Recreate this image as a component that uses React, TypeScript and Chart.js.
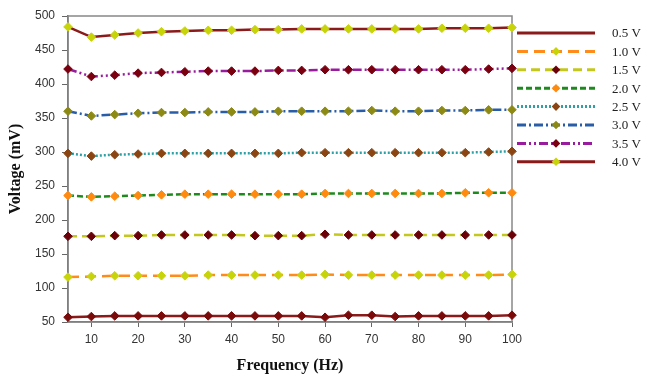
import React, { useEffect, useRef } from "react";
import { Chart, registerables } from "chart.js";

Chart.register(...registerables);

const frequencies = [5, 10, 15, 20, 25, 30, 35, 40, 45, 50, 55, 60, 65, 70, 75, 80, 85, 90, 95, 100];
const xTicks = [10, 20, 30, 40, 50, 60, 70, 80, 90, 100];
const seriesLabels = ["0.5 V", "1.0 V", "1.5 V", "2.0 V", "2.5 V", "3.0 V", "3.5 V", "4.0 V"];

const v05 = [57, 58, 59, 59, 59, 59, 59, 59, 59, 59, 59, 57, 60, 60, 58, 59, 59, 59, 59, 60];
const v10 = [116, 117, 118, 118, 118, 118, 119, 119, 119, 119, 119, 120, 119, 119, 119, 119, 119, 119, 119, 120];
const v15 = [176, 176, 177, 177, 178, 178, 178, 178, 177, 177, 177, 179, 178, 178, 178, 178, 178, 178, 178, 178];
const v20 = [236, 234, 235, 236, 237, 238, 238, 238, 238, 238, 238, 239, 239, 239, 239, 239, 239, 240, 240, 240];
const v25 = [298, 294, 296, 297, 298, 298, 298, 298, 298, 298, 299, 299, 299, 299, 299, 299, 299, 299, 300, 301];
const v30 = [360, 353, 355, 357, 358, 358, 359, 359, 359, 360, 360, 360, 360, 361, 360, 360, 361, 361, 362, 362];
const v35 = [422, 411, 413, 416, 417, 418, 419, 419, 419, 420, 420, 421, 421, 421, 421, 421, 421, 421, 422, 423];
const v40 = [484, 469, 472, 475, 477, 478, 479, 479, 480, 480, 481, 481, 481, 481, 481, 481, 482, 482, 482, 483];

const values = [v05, v10, v15, v20, v25, v30, v35, v40];
const lineColors = ["#8B1A1A", "#FF8C1A", "#C4C81E", "#1E8A1E", "#2AA3A8", "#2A5DA8", "#9A1C9E", "#8B1A1A"];
const markerColors = ["#7A0A0A", "#C8D40A", "#6A0008", "#FF8A10", "#8B4513", "#8C8A14", "#7A0010", "#C8D40A"];
const dashes: number[][] = [[], [11, 6], [9, 5], [6, 3], [2, 2], [9, 3, 2, 3], [9, 3, 2, 3, 2, 3], []];

export default function App() {
  const ref = useRef<HTMLCanvasElement>(null);
  useEffect(() => {
    if (!ref.current) return;
    const datasets = values.map((vals, i) => ({
      label: seriesLabels[i],
      data: vals.map((v, j) => ({ x: frequencies[j], y: v })),
      borderColor: lineColors[i],
      backgroundColor: markerColors[i],
      borderWidth: 2.5,
      borderDash: dashes[i],
      pointStyle: "rectRot" as const,
      pointRadius: 4.3,
      pointBackgroundColor: markerColors[i],
      pointBorderColor: markerColors[i],
      pointBorderWidth: 1,
      tension: 0,
      clip: false as any,
    }));

    const frame = {
      id: "frame",
      beforeDatasetsDraw(chart: any) {
        const { ctx, chartArea } = chart;
        ctx.save();
        ctx.strokeStyle = "#888888";
        ctx.lineWidth = 1.5;
        ctx.strokeRect(chartArea.left, chartArea.top, chartArea.right - chartArea.left, chartArea.bottom - chartArea.top);
        ctx.restore();
      },
      afterDraw(chart: any) {
        const { ctx } = chart;
        const x0 = 517, x1 = 595, tx = 612;
        chart.data.datasets.forEach((ds: any, i: number) => {
          const y = 33 + i * 18.4;
          ctx.save();
          ctx.strokeStyle = ds.borderColor;
          ctx.lineWidth = 3;
          ctx.setLineDash(ds.borderDash || []);
          ctx.beginPath();
          ctx.moveTo(x0, y);
          ctx.lineTo(x1, y);
          ctx.stroke();
          ctx.setLineDash([]);
          if (i > 0) {
            ctx.fillStyle = ds.pointBackgroundColor;
            const cx = (x0 + x1) / 2;
            const r = 4.3;
            ctx.beginPath();
            ctx.moveTo(cx, y - r);
            ctx.lineTo(cx + r, y);
            ctx.lineTo(cx, y + r);
            ctx.lineTo(cx - r, y);
            ctx.closePath();
            ctx.fill();
          }
          ctx.fillStyle = "#222222";
          ctx.font = "13px 'Liberation Serif', serif";
          ctx.textBaseline = "middle";
          ctx.textAlign = "left";
          ctx.fillText(ds.label, tx, y + 1);
          ctx.restore();
        });
      },
    };

    const chart = new Chart(ref.current, {
      type: "line",
      data: { datasets },
      options: {
        animation: false,
        responsive: false,
        maintainAspectRatio: false,
        layout: { padding: { left: 0, top: 16, right: 135, bottom: 0 } },
        plugins: { legend: { display: false }, tooltip: { enabled: false } },
        scales: {
          x: {
            type: "linear",
            min: 5,
            max: 100,
            afterBuildTicks: (axis: any) => {
              axis.ticks = xTicks.map((v) => ({ value: v }));
            },
            afterFit: (axis: any) => {
              axis.height = 54;
            },
            grid: { display: true, drawOnChartArea: false, tickLength: 5, color: "#666666" },
            border: { display: true, color: "#666666", width: 1.5 },
            ticks: {
              color: "#333333",
              font: { family: "'Liberation Sans', Arial, sans-serif", size: 12 },
              padding: 5,
              maxRotation: 0,
            },
            title: {
              display: true,
              text: "Frequency (Hz)",
              color: "#111111",
              font: { family: "'Liberation Serif', serif", size: 16, weight: "bold" },
              padding: { top: 4, bottom: 1 },
            },
          },
          y: {
            min: 50,
            max: 500,
            afterFit: (axis: any) => {
              axis.width = 68;
            },
            grid: { display: true, drawOnChartArea: false, tickLength: 6, color: "#666666" },
            border: { display: true, color: "#666666", width: 1.5 },
            ticks: {
              stepSize: 50,
              color: "#333333",
              font: { family: "'Liberation Sans', Arial, sans-serif", size: 12 },
              padding: 7,
            },
            title: {
              display: true,
              text: "Voltage (mV)",
              color: "#111111",
              font: { family: "'Liberation Serif', serif", size: 16, weight: "bold" },
              padding: { top: 6, bottom: 4 },
            },
          },
        },
      },
      plugins: [frame],
    });
    return () => chart.destroy();
  }, []);
  return (
    <div style={{ position: "fixed", left: 0, top: 0, width: 647, height: 376, background: "#fff" }}>
      <canvas ref={ref} width={647} height={376} style={{ width: 647, height: 376 }} />
    </div>
  );
}
